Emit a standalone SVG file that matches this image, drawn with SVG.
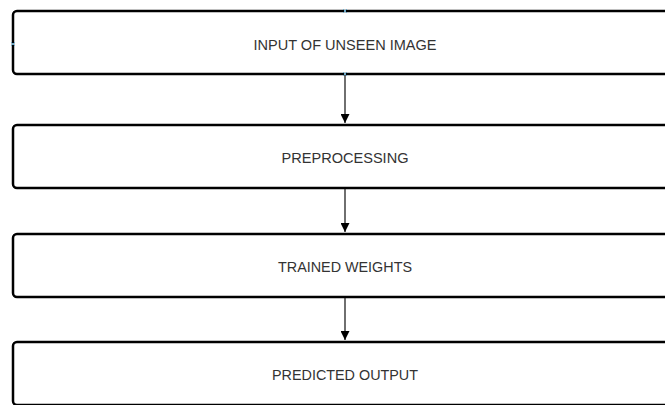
<svg xmlns="http://www.w3.org/2000/svg" width="665" height="405" viewBox="0 0 665 405">
<style>
.box{fill:#fff;stroke:#000;stroke-width:2.5}
.lbl{font-family:"Liberation Sans",Arial,sans-serif;font-size:14.5px;fill:#333;text-anchor:middle;dominant-baseline:central}
.conn{stroke:#222;stroke-width:1.3;fill:none}
.pt{stroke:#6aa8c8;stroke-width:1}
</style>
<defs>
<marker id="ah" viewBox="0 0 10 10" refX="10" refY="5" markerWidth="10" markerHeight="9" markerUnits="userSpaceOnUse" orient="auto">
<path d="M0,0 L10,5 L0,10 z" fill="#000"/>
</marker>
</defs>
<rect width="665" height="405" fill="#fff"/>
<g id="n1"><rect class="box" x="13" y="11" width="670" height="63" rx="4"/><text class="lbl" x="345" y="45" textLength="183" lengthAdjust="spacingAndGlyphs">INPUT OF UNSEEN IMAGE</text></g>
<g id="n2"><rect class="box" x="13" y="125" width="670" height="63" rx="4"/><text class="lbl" x="345" y="158" textLength="127" lengthAdjust="spacingAndGlyphs">PREPROCESSING</text></g>
<g id="n3"><rect class="box" x="13" y="234" width="670" height="63" rx="4"/><text class="lbl" x="345" y="267" textLength="134" lengthAdjust="spacingAndGlyphs">TRAINED WEIGHTS</text></g>
<g id="n4"><rect class="box" x="13" y="342" width="670" height="63" rx="4"/><text class="lbl" x="345" y="375" textLength="146" lengthAdjust="spacingAndGlyphs">PREDICTED OUTPUT</text></g>
<g id="connectors">
<line class="conn" x1="345" y1="75" x2="345" y2="123" marker-end="url(#ah)"/>
<line class="conn" x1="345" y1="189" x2="345" y2="232" marker-end="url(#ah)"/>
<line class="conn" x1="345" y1="298" x2="345" y2="340" marker-end="url(#ah)"/>
</g>
<g id="points">
<path class="pt" d="M343,9 l4,4 M347,9 l-4,4"/>
<path class="pt" d="M11,42 l4,4 M15,42 l-4,4"/>
<path class="pt" d="M343,72 l4,4 M347,72 l-4,4"/>
</g>
</svg>
